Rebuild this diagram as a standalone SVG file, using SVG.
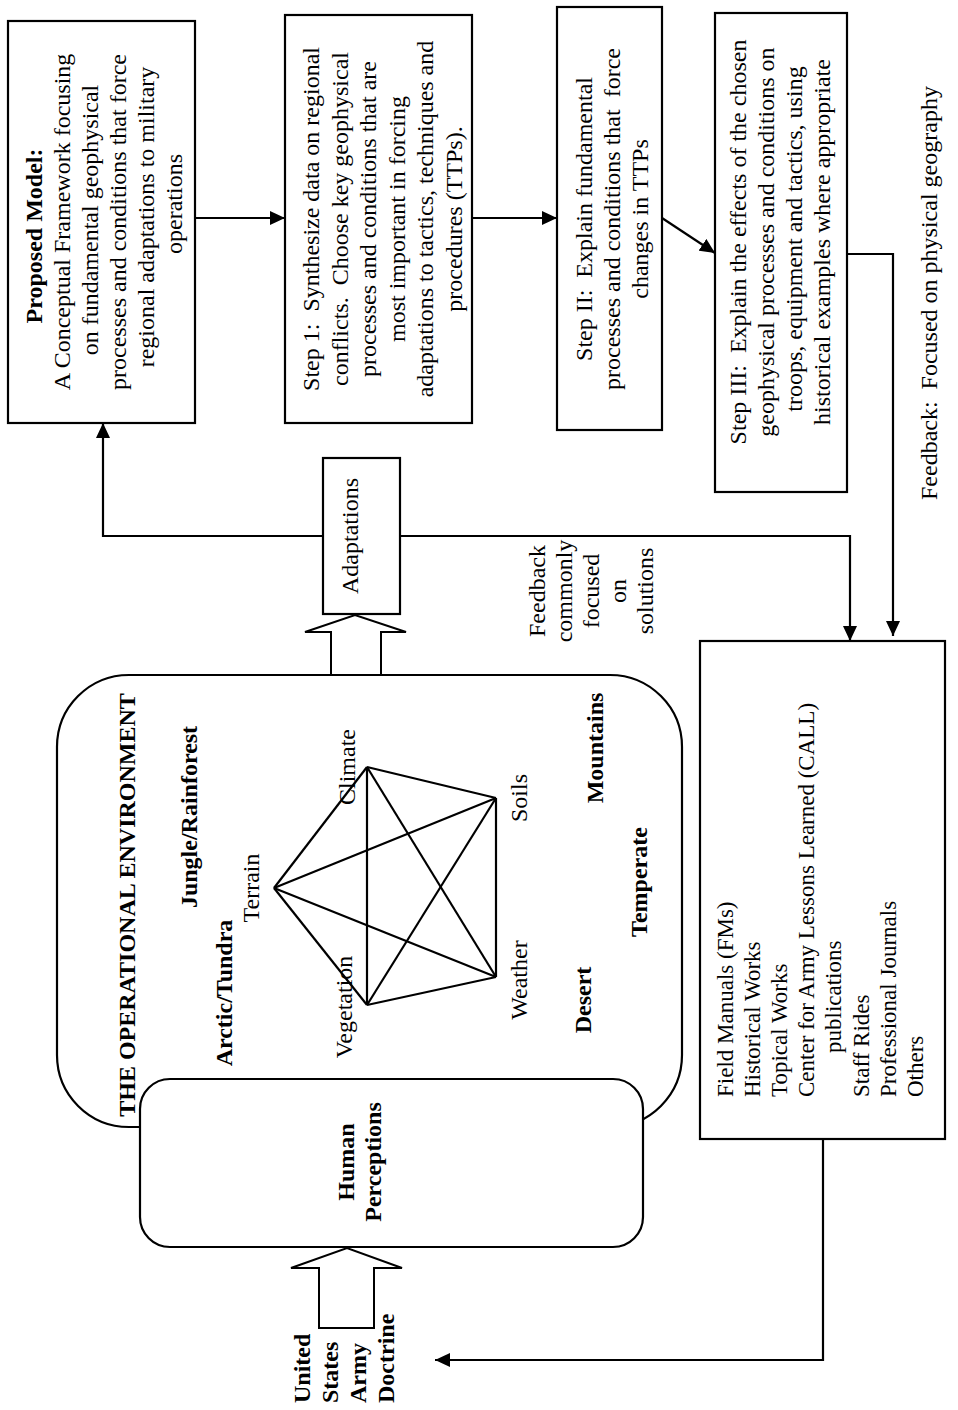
<svg xmlns="http://www.w3.org/2000/svg" width="958" height="1410" viewBox="0 0 958 1410">
<style>
  .box { fill: #ffffff; stroke: #000; stroke-width: 2.2; }
  .ln { fill: none; stroke: #000; stroke-width: 2.2; }
  .hollow { fill: #ffffff; stroke: #000; stroke-width: 2; stroke-linejoin: miter; }
  .edge { stroke: #000; stroke-width: 2.2; }
  text { font-family: "Liberation Serif", "Times New Roman", serif; font-size: 24px; fill: #000; white-space: pre; }
  .b { font-weight: bold; }
  .mid { text-anchor: middle; }
  .st { text-anchor: start; }
  .sm { font-size: 23px; }
</style>
<defs>
  <marker id="ah" markerUnits="userSpaceOnUse" markerWidth="16" markerHeight="14" refX="15" refY="7" orient="auto">
    <path d="M0,0 L15,7 L0,14 z" fill="#000"/>
  </marker>
</defs>
<rect width="958" height="1410" fill="#ffffff"/>

<g id="operational-environment">
  <rect class="box" x="57" y="675" width="625" height="452" rx="72" ry="72"/>
  <text class="b mid" transform="translate(135,905) rotate(-90)">THE OPERATIONAL ENVIRONMENT</text>
  <text class="b mid" transform="translate(197,817) rotate(-90)">Jungle/Rainforest</text>
  <text class="b mid" transform="translate(232,993) rotate(-90)">Arctic/Tundra</text>
  <text class="b mid" transform="translate(603,748) rotate(-90)">Mountains</text>
  <text class="b mid" transform="translate(647,882) rotate(-90)">Temperate</text>
  <text class="b mid" transform="translate(591,1000) rotate(-90)">Desert</text>
</g>

<g id="geo-factors">
  <g id="graph-edges">
    <line class="edge" x1="274" y1="888" x2="367" y2="767"/>
    <line class="edge" x1="274" y1="888" x2="496" y2="798"/>
    <line class="edge" x1="274" y1="888" x2="496" y2="977"/>
    <line class="edge" x1="274" y1="888" x2="367" y2="1005"/>
    <line class="edge" x1="367" y1="767" x2="496" y2="798"/>
    <line class="edge" x1="367" y1="767" x2="496" y2="977"/>
    <line class="edge" x1="367" y1="767" x2="367" y2="1005"/>
    <line class="edge" x1="496" y1="798" x2="496" y2="977"/>
    <line class="edge" x1="496" y1="798" x2="367" y2="1005"/>
    <line class="edge" x1="496" y1="977" x2="367" y2="1005"/>
  </g>
  <text class="mid" transform="translate(259,888) rotate(-90)">Terrain</text>
  <text class="mid" transform="translate(355,767) rotate(-90)">Climate</text>
  <text class="mid" transform="translate(352,1007) rotate(-90)">Vegetation</text>
  <text class="mid" transform="translate(527,798) rotate(-90)">Soils</text>
  <text class="mid" transform="translate(527,980) rotate(-90)">Weather</text>
</g>

<g id="human-perceptions">
  <rect class="box" x="140" y="1079" width="503" height="168" rx="30" ry="30"/>
  <text class="b mid" transform="translate(354,1162) rotate(-90)"><tspan x="0" y="0">Human</tspan><tspan x="0" dy="27">Perceptions</tspan></text>
</g>

<g id="proposed-model">
  <rect class="box" x="8" y="21" width="187" height="402"/>
  <text class="mid" transform="translate(42,220) rotate(-90)"><tspan class="b" x="-16" y="0">Proposed Model:</tspan><tspan x="-2" dy="28">A Conceptual Framework focusing</tspan><tspan x="0" dy="28">on fundamental geophysical</tspan><tspan x="-2" dy="28">processes and conditions that force</tspan><tspan x="3" dy="28">regional adaptations to military</tspan><tspan x="16" dy="28">operations</tspan></text>
</g>

<g id="step-1">
  <rect class="box" x="285" y="15" width="187" height="408"/>
  <text class="mid" transform="translate(319,219) rotate(-90)"><tspan x="0" y="0">Step 1:  Synthesize data on regional</tspan><tspan x="0" dy="28.6">conflicts.  Choose key geophysical</tspan><tspan x="0" dy="28.6">processes and conditions that are</tspan><tspan x="0" dy="28.6">most important in forcing</tspan><tspan x="0" dy="28.6">adaptations to tactics, techniques and</tspan><tspan x="0" dy="28.6">procedures (TTPs).</tspan></text>
</g>

<g id="step-2">
  <rect class="box" x="557" y="7" width="105" height="423"/>
  <text class="mid" transform="translate(592,219) rotate(-90)"><tspan x="0" y="0">Step II:  Explain fundamental</tspan><tspan x="0" dy="28">processes and conditions that  force</tspan><tspan x="0" dy="28">changes in TTPs</tspan></text>
</g>

<g id="step-3">
  <rect class="box" x="715" y="13" width="132" height="479"/>
  <text class="mid" transform="translate(746,242) rotate(-90)"><tspan x="0" y="0">Step III:  Explain the effects of the chosen</tspan><tspan x="0" dy="28">geophysical processes and conditions on</tspan><tspan x="3" dy="28">troops, equipment and tactics, using</tspan><tspan x="0" dy="28">historical examples where appropriate</tspan></text>
</g>

<g id="adaptations">
  <rect class="box" x="323" y="458" width="77" height="156"/>
  <text class="mid" transform="translate(358,536) rotate(-90)">Adaptations</text>
</g>

<g id="call-sources">
  <rect class="box" x="700" y="641" width="245" height="498"/>
  <text class="st sm" transform="translate(733,1097) rotate(-90)"><tspan x="0" y="0">Field Manuals (FMs)</tspan><tspan x="0" dy="27.1">Historical Works</tspan><tspan x="0" dy="27.1">Topical Works</tspan><tspan x="0" dy="27.1">Center for Army Lessons Learned (CALL)</tspan><tspan x="44" dy="27.1">publications</tspan><tspan x="0" dy="27.1">Staff Rides</tspan><tspan x="0" dy="27.1">Professional Journals</tspan><tspan x="0" dy="27.1">Others</tspan></text>
</g>

<g id="doctrine">
  <text class="b st" transform="translate(310,1403) rotate(-90)"><tspan x="0" y="0">United</tspan><tspan x="0" dy="28">States</tspan><tspan x="0" dy="28">Army</tspan><tspan x="0" dy="28">Doctrine</tspan></text>
</g>

<g id="feedback-labels">
  <text class="mid" transform="translate(545,591) rotate(-90)"><tspan x="0" y="0">Feedback</tspan><tspan x="0" dy="27">commonly</tspan><tspan x="0" dy="27">focused</tspan><tspan x="0" dy="27">on</tspan><tspan x="0" dy="27">solutions</tspan></text>
  <text class="st" transform="translate(937,500) rotate(-90)">Feedback:  Focused on physical geography</text>
</g>

<g id="connectors">
  <path class="ln" d="M195,218 H285" marker-end="url(#ah)"/>
  <path class="ln" d="M472,218 H557" marker-end="url(#ah)"/>
  <path class="ln" d="M662,218 L715,253" marker-end="url(#ah)"/>
  <path class="ln" d="M847,254 H893 V636" marker-end="url(#ah)"/>
  <path class="ln" d="M400,536 H850 V641" marker-end="url(#ah)"/>
  <path class="ln" d="M323,536 H103 V423" marker-end="url(#ah)"/>
  <path class="ln" d="M823,1139 V1360 H435" marker-end="url(#ah)"/>
  <polygon class="hollow" points="331,675 331,632 305,632 355,615 406,632 381,632 381,675"/>
  <polygon class="hollow" points="319,1328 319,1268 291,1268 347,1248 402,1268 374,1268 374,1328"/>
</g>
</svg>
